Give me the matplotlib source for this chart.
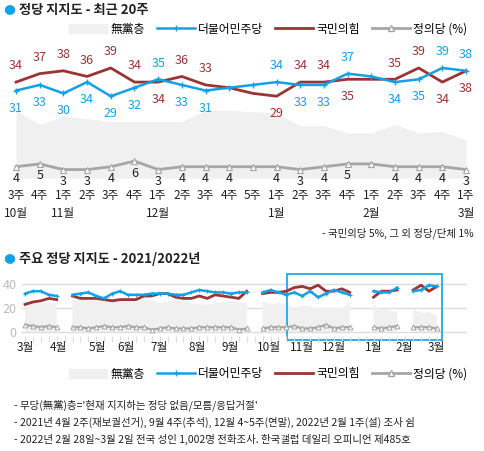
import numpy as np
import matplotlib
matplotlib.use("Agg")
import matplotlib.pyplot as plt
from matplotlib.patches import Rectangle, Circle
from matplotlib.lines import Line2D
from matplotlib.patches import Patch

plt.rcParams['font.family'] = ['Noto Sans CJK KR', 'DejaVu Sans']

BLUE = '#14a0e6'; RED = '#993535'; GRAY = '#a6a6a6'; AREA = '#f0f0f0'

# ---- top chart data (last 20 weeks)
weeks = ['3주','4주','1주','2주','3주','4주','1주','2주','3주','4주','5주','1주','2주','3주','4주','1주','2주','3주','4주','1주']
months = {0:'10월', 2:'11월', 6:'12월', 11:'1월', 15:'2월', 19:'3월'}
dem = [31,33,30,34,29,32,35,33,31,32,33,34,33,33,37,36,34,35,39,38]
ppp = [34,37,38,36,39,34,34,36,33,32,30,29,34,34,35,35,35,39,34,38]
jus = [4,5,3,3,4,6,3,4,4,4,4,4,3,4,5,5,4,4,4,3]
una = [24,19,22,21,20,20,20,20,24,24,23.5,23,18.5,18.5,16,16,19,16,16.5,13.5]
dem_lab = ['b','b','b','b','b','b','a','b','b',None,None,'a','b','b','a',None,'b','b','a','a']
ppp_lab = ['a','a','a','a','a','a','b','a','a',None,None,'b','a','a','b',None,'a','a','b','b']
jus_lab = [True]*20; jus_lab[10] = False; jus_lab[15] = False

# ---- bottom chart data (weekly index 0..52, NaN = no survey)
N = 53
seg1_dem = [32,34,34,31,30]; seg1_ppp = [23,25,26,28,27]; seg1_jus = [6,5,4,5,4]; seg1_una = [26,24,24,24,24]
seg2_dem = [31,32,33,30,28,32,34,31,31,31,32,32,32,31,31,33,35,34,33,33,32,33,33]
seg2_ppp = [30,28,28,28,27,26,27,27,27,30,30,32,32,29,28,28,30,28,31,30,29,28,34]
seg2_jus = [4,4,3,4,5,4,4,5,4,4,2,3,4,3,3,3,4,4,4,4,4,2,3]
seg2_una = [27,27,27,27,28,28,28,28,28,27,26,24,25,27,27,24,23,23,24,25,26,25,24]
seg3_dem = [33,35,33]; seg3_ppp = [32,33,33]; seg3_jus = [3,4,4]; seg3_una = [26,23,24]
def build(s1, s2, s3, recent):
    a = np.full(N, np.nan)
    a[0:5] = s1; a[6:29] = s2; a[30:33] = s3
    a[33:42] = recent[0:9]; a[44:48] = recent[11:15]; a[49:53] = recent[16:20]
    return a
b_dem = build(seg1_dem, seg2_dem, seg3_dem, dem); b_ppp = build(seg1_ppp, seg2_ppp, seg3_ppp, ppp)
b_jus = build(seg1_jus, seg2_jus, seg3_jus, jus); b_una = build(seg1_una, seg2_una, seg3_una, una)
b_months = ['3월','4월','5월','6월','7월','8월','9월','10월','11월','12월','1월','2월','3월']
b_mpos = [0,4.2,9.1,12.8,17,21.7,25.9,30.8,35,39,44,47.9,52]

fig = plt.figure(figsize=(4.84,4.51), dpi=100)
W, H = 484, 451
def ax_rect(l, t, r, b):
    return [l/W, 1-b/H, (r-l)/W, (b-t)/H]

# ---------------- top
ax = fig.add_axes(ax_rect(8, 44, 476, 180))
x = np.arange(20)
ax.set_xlim(-0.34, 19.42); ax.set_ylim(-0.7, 47.5)
ax.fill_between(x, 0, una, color=AREA, lw=0)
ax.plot(x, ppp, color=RED, lw=2)
ax.plot(x, dem, color=BLUE, lw=1.8, marker='+', ms=5, mew=1)
ax.plot(x, jus, color=GRAY, lw=2, marker='^', ms=4, mfc='white', mec=GRAY, mew=0.8)
for i in range(20):
    if dem_lab[i]:
        off = 7 if dem_lab[i]=='a' else -8
        ax.annotate(str(dem[i]), (i, dem[i]), xytext=(0, off), textcoords='offset points',
                    ha='center', va='bottom' if off>0 else 'top', color=BLUE, fontsize=9)
    if ppp_lab[i]:
        off = 7 if ppp_lab[i]=='a' else -8
        ax.annotate(str(ppp[i]), (i, ppp[i]), xytext=(0, off), textcoords='offset points',
                    ha='center', va='bottom' if off>0 else 'top', color=RED, fontsize=9)
    if jus_lab[i]:
        ax.annotate(str(jus[i]), (i, jus[i]), xytext=(0, -4), textcoords='offset points',
                    ha='center', va='top', color='#222222', fontsize=9)
ax.axis('off')
for i in range(20):
    fig.text((16+i*23.68)/W, 1-196/H, weeks[i], ha='center', va='center', fontsize=8.5, color='#222')
for i, m in months.items():
    fig.text((16+i*23.68)/W, 1-214/H, m, ha='center', va='center', fontsize=8.5, color='#222')
fig.text(474/W, 1-233/H, '- 국민의당 5%, 그 외 정당/단체 1%', ha='right', va='center', fontsize=7.5, color='#222')

handles = [Patch(color=AREA), Line2D([],[],color=BLUE,lw=1.8,marker='+',ms=5),
           Line2D([],[],color=RED,lw=2), Line2D([],[],color=GRAY,lw=2,marker='^',ms=4,mfc='white')]
names = ['無黨층','더불어민주당','국민의힘','정의당 (%)']
fig.legend(handles, names, loc='center right', bbox_to_anchor=(478/W, 1-29/H), ncol=4, frameon=False,
           fontsize=8.5, handlelength=3.2, columnspacing=1.0, handletextpad=0.3)

fig.patches.append(Circle((10/W, 1-10/H), 4.5/W, transform=fig.transFigure, color=BLUE))
fig.text(19/W, 1-10/H, '정당 지지도 - 최근 20주', ha='left', va='center', fontsize=9.5, fontweight='bold', color='#222')
fig.patches.append(Circle((10/W, 1-259/H), 4.5/W, transform=fig.transFigure, color=BLUE))
fig.text(19/W, 1-259/H, '주요 정당 지지도 - 2021/2022년', ha='left', va='center', fontsize=9.5, fontweight='bold', color='#222')

# ---------------- bottom
bx = fig.add_axes(ax_rect(22, 265, 467, 336))
xb = np.arange(N)
bx.set_xlim(-0.38, 55.8); bx.set_ylim(-3.3, 55.8)
for g in [0,20,40]:
    bx.axhline(g, color='#dddddd', lw=1, zorder=0)
bx.fill_between(xb, 0, b_una, color=AREA, lw=0, where=~np.isnan(b_una))
bx.plot(xb, b_ppp, color=RED, lw=2)
bx.plot(xb, b_dem, color=BLUE, lw=1.8, marker='+', ms=3, mew=0.8)
bx.plot(xb, b_jus, color=GRAY, lw=1.6, marker='^', ms=3.5, mfc='white', mec=GRAY, mew=0.7)
bx.add_patch(Rectangle((33.1, -6.7), 52.6-33.1, 54.7, fill=False, ec=BLUE, lw=1.2, clip_on=False))
for s in bx.spines.values(): s.set_visible(False)
bx.set_xticks(xb); bx.set_xticklabels([])
bx.tick_params(axis='x', length=4, color='#dddddd', direction='out')
bx.set_yticks([0,20,40]); bx.set_yticklabels(['0','20','40'], color='#bbbbbb', fontsize=9)
bx.tick_params(axis='y', length=0, pad=4)
for p, m in zip(b_mpos, b_months):
    fig.text((25+p*7.92)/W, 1-348/H, m, ha='center', va='center', fontsize=8.5, color='#222')

fig.legend(handles, names, loc='center right', bbox_to_anchor=(478/W, 1-374/H), ncol=4, frameon=False,
           fontsize=8.5, handlelength=3.2, columnspacing=1.0, handletextpad=0.3)

notes = ["- 무당(無黨)층='현재 지지하는 정당 없음/모름/응답거절'",
         "- 2021년 4월 2주(재보궐선거), 9월 4주(추석), 12월 4~5주(연말), 2022년 2월 1주(설) 조사 쉼",
         "- 2022년 2월 28일~3월 2일 전국 성인 1,002명 전화조사. 한국갤럽 데일리 오피니언 제485호"]
for k, t in enumerate(notes):
    fig.text(14/W, 1-(405+k*17)/H, t, ha='left', va='center', fontsize=7.5, color='#222')

fig.savefig('out.png', dpi=100)
